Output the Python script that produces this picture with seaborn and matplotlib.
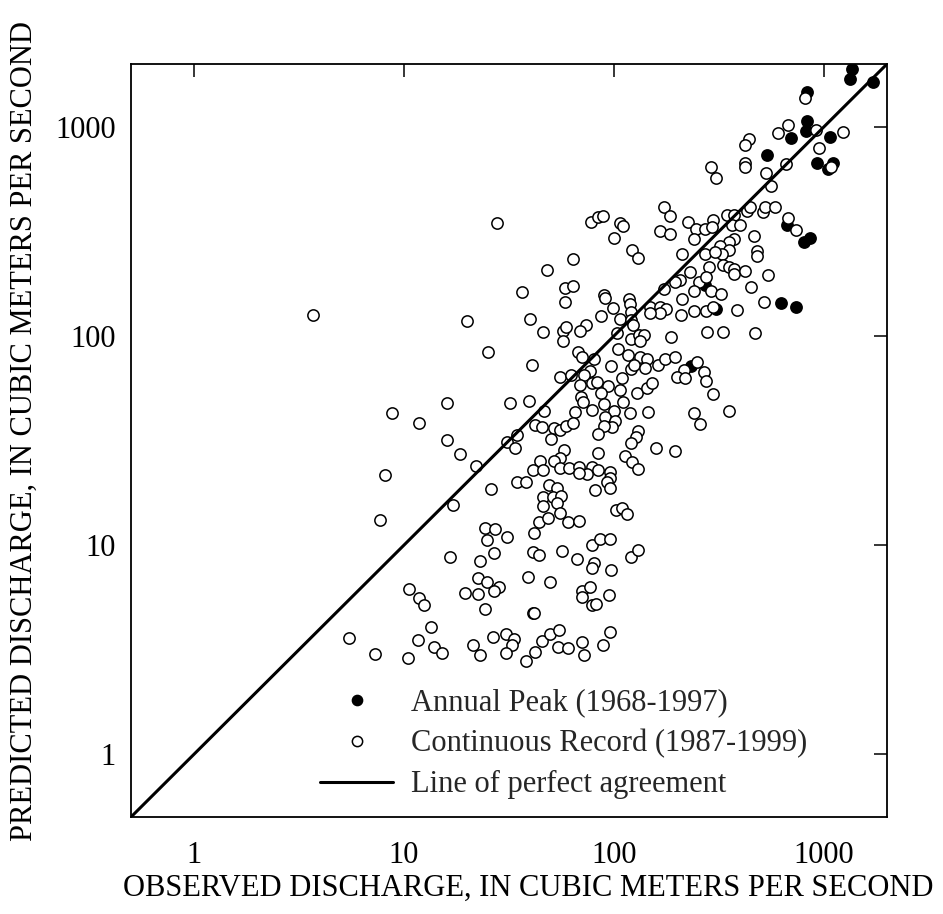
import matplotlib
matplotlib.use("Agg")
import matplotlib.pyplot as plt
from matplotlib.lines import Line2D
from matplotlib.ticker import NullLocator
import seaborn as sns

# ---------------- data ----------------
# Annual peak (1968-1997): observed vs predicted discharge, m3/s
peak_observed = [1362, 1337, 1708, 832, 832, 819, 695, 1071, 538, 924,
                 1106, 1042, 668, 807, 856, 628, 739, 308, 233, 273]
peak_predicted = [1900, 1690, 1641, 1462, 1062, 958, 884, 891, 733, 674,
                  672, 630, 341, 283, 294, 144, 137, 134, 72, 175]

# Continuous record (1987-1999): observed vs predicted discharge, m3/s
continuous_observed = [
    27.8, 63.7, 48.1, 36.6, 58.3, 63.7, 816, 672, 602, 922,
    1230, 438, 419, 948, 291, 307, 422, 419, 663, 528,
    562, 174, 184, 78.1, 84.4, 88.9, 107, 111, 100, 122,
    130, 165, 184, 225, 247, 271, 297, 294, 240, 346,
    372, 366, 400, 431, 443, 513, 522, 588, 672, 740,
    463, 372, 352, 321, 355, 328, 481, 481, 211, 271,
    304, 283, 331, 352, 372, 372, 419, 542, 231, 207,
    195, 173, 253, 276, 240, 291, 325, 450, 1080, 89.5,
    90.3, 118, 119, 210, 74.0, 68.8, 86.8, 98.7, 107, 120,
    120, 148, 165, 178, 165, 148, 209, 240, 276, 297,
    386, 516, 278, 331, 472, 188, 103, 123, 120, 131,
    139, 133, 105, 80.0, 117, 133, 144, 97.2, 121, 124,
    140, 163, 176, 196, 249, 215, 200, 217, 268, 274,
    295, 77.1, 71.9, 109, 78.7, 83.4, 93.5, 107, 129, 144,
    152, 86.3, 89.5, 111, 78.7, 99.8, 119, 145, 90.3, 101,
    98.0, 89.5, 84.0, 240, 258, 354, 130, 127, 120, 159,
    196, 84.0, 113, 122, 130, 78.7, 84.4, 74.5, 95.3, 96.1,
    92.2, 96.1, 81.6, 102, 109, 116, 58.3, 3.70, 20.0, 40.0,
    46.0, 57.4, 59.4, 57.4, 25.1, 40.8, 67.5, 70.6, 55.2, 62.1,
    69.2, 69.8, 71.4, 16.1, 32.1, 39.3, 8.74, 11.8, 46.3, 65.5,
    42.2, 45.5, 51.6, 55.2, 58.8, 64.0, 50.2, 16.1, 31.0, 34.6,
    33.9, 18.4, 22.1, 57.7, 55.2, 44.3, 51.6, 41.1, 46.0, 55.6,
    60.9, 68.5, 68.0, 8.08, 26.0, 34.6, 37.9, 48.9, 53.6, 45.8,
    51.3, 56.0, 53.6, 46.0, 17.1, 55.6, 7.71, 43.8, 48.5, 60.2,
    68.0, 24.2, 27.1, 24.9, 31.0, 41.5, 16.5, 22.9, 26.8, 41.2,
    43.8, 56.6, 66.9, 38.9, 49.8, 22.5, 24.9, 28.3, 26.8, 22.4,
    19.5, 10.6, 11.8, 12.5, 24.3, 41.1, 41.8, 70.6, 70.6, 13.4,
    5.46, 7.24, 10.4, 11.6, 13.9, 15.2, 21.3, 23.1, 26.5, 30.7,
    33.3, 32.8, 30.7, 38.2, 42.2, 45.5, 49.8, 54.6, 54.2, 60.2,
    70.6, 71.9, 78.7, 85.6, 96.1, 121, 130, 80.0, 78.7, 97.0,
    77.1, 95.1, 78.7, 82.5, 96.1, 88.9,
]
continuous_predicted = [
    347, 234, 206, 163, 170, 174, 1370, 1020, 940, 969,
    950, 875, 820, 797, 645, 569, 675, 645, 663, 602,
    523, 416, 376, 350, 370, 373, 347, 337, 295, 258,
    236, 319, 308, 352, 325, 325, 360, 333, 291, 379,
    379, 341, 341, 398, 415, 390, 415, 415, 366, 322,
    300, 291, 281, 268, 259, 247, 256, 242, 247, 247,
    252, 213, 219, 213, 208, 198, 204, 195, 202, 186,
    181, 168, 182, 191, 165, 165, 159, 171, 641, 157,
    152, 151, 143, 151, 113, 106, 125, 136, 120, 130,
    119, 138, 138, 134, 129, 129, 126, 131, 131, 138,
    133, 145, 104, 104, 103, 98.9, 103, 113, 96.3, 101,
    101, 94.1, 86.2, 77.8, 80.8, 79.2, 77.8, 72.2, 69.2, 72.9,
    70.2, 72.9, 77.8, 79.7, 75.1, 68.4, 63.7, 62.9, 66.9, 61.0,
    52.9, 67.7, 65.3, 62.9, 59.9, 60.4, 57.7, 55.3, 53.1, 56.5,
    59.9, 53.1, 47.1, 48.4, 44.1, 43.6, 42.6, 43.4, 41.0, 39.1,
    36.8, 37.2, 33.8, 43.0, 37.8, 43.8, 35.0, 33.0, 30.6, 29.0,
    28.1, 27.6, 26.6, 25.0, 23.0, 23.5, 22.8, 21.8, 22.4, 21.0,
    20.1, 18.7, 18.3, 14.7, 15.0, 14.0, 146, 126, 118, 121,
    104, 106, 110, 94.1, 83.9, 72.9, 83.9, 79.2, 63.7, 65.3,
    58.1, 51.1, 48.4, 47.6, 47.6, 48.9, 43.0, 38.4, 43.6, 43.4,
    37.7, 36.8, 36.1, 35.4, 37.2, 38.5, 32.3, 31.7, 31.2, 33.5,
    29.0, 27.2, 24.0, 28.4, 26.1, 25.3, 25.3, 22.8, 22.8, 23.3,
    23.3, 23.7, 22.0, 21.6, 18.5, 20.1, 20.1, 19.4, 18.7, 17.0,
    17.0, 17.2, 15.8, 15.4, 15.5, 14.2, 13.2, 12.9, 13.4, 12.9,
    13.0, 12.0, 11.9, 10.6, 10.9, 11.4, 8.80, 8.40, 9.12, 9.31,
    8.95, 9.36, 8.59, 7.07, 6.69, 6.99, 6.69, 6.33, 6.04, 5.86,
    5.88, 6.15, 5.56, 5.14, 4.95, 4.72, 4.72, 6.00, 5.65, 4.04,
    3.59, 3.02, 2.88, 3.50, 3.27, 3.04, 3.33, 2.99, 3.63, 3.75,
    3.55, 3.33, 3.04, 2.80, 3.08, 3.46, 3.75, 3.93, 3.27, 3.22,
    3.43, 2.99, 10.0, 10.7, 10.7, 8.80, 9.50, 8.17, 7.79, 7.60,
    6.33, 5.77, 5.14, 5.22, 3.82, 3.31,
]

# line of perfect agreement spans the axis range
agreement = [0.5, 2000]

tick_values = [1, 10, 100, 1000]
tick_labels = ["1", "10", "100", "1000"]

x_label = "OBSERVED DISCHARGE, IN CUBIC METERS PER SECOND"
y_label = "PREDICTED DISCHARGE, IN CUBIC METERS PER SECOND"
legend_labels = ["Annual Peak (1968-1997)",
                 "Continuous Record (1987-1999)",
                 "Line of perfect agreement"]

# ---------------- style ----------------
sns.set_theme(style="white")
plt.rcParams["font.family"] = ["Liberation Serif", "DejaVu Serif"]
plt.rcParams["axes.edgecolor"] = "black"

fig = plt.figure(figsize=(9.43, 9.14), dpi=100)
ax = fig.add_axes([131 / 943, 97 / 914, 756 / 943, 753 / 914])
ax.set_xscale("log")
ax.set_yscale("log")

sns.scatterplot(x=peak_observed, y=peak_predicted, ax=ax,
                marker="o", s=66, color="black", edgecolor="black",
                linewidth=1.1, zorder=2, legend=False)
sns.scatterplot(x=continuous_observed, y=continuous_predicted, ax=ax,
                marker="o", s=66, color="white", edgecolor="black",
                linewidth=1.1, zorder=3, legend=False)
sns.lineplot(x=agreement, y=agreement, ax=ax, color="black",
             linewidth=2.2, zorder=4, legend=False)

ax.set_xlim(0.5, 2000)
ax.set_ylim(0.5, 2000)
ax.set_xticks(tick_values)
ax.set_xticklabels(tick_labels)
ax.set_yticks(tick_values)
ax.set_yticklabels(tick_labels)
ax.xaxis.set_minor_locator(NullLocator())
ax.yaxis.set_minor_locator(NullLocator())
ax.tick_params(which="major", direction="in", length=9.5, width=1.1,
               top=True, right=True, labelsize=22, colors="black")
ax.tick_params(axis="x", pad=17)
ax.tick_params(axis="y", pad=11)
for sp in ax.spines.values():
    sp.set_color("black")
    sp.set_linewidth(1.3)

ax.set_xlabel(x_label, fontsize=22, color="black")
ax.set_ylabel(y_label, fontsize=22, color="black")
ax.xaxis.set_label_coords(0.525, -0.076)
ax.yaxis.set_label_coords(-0.122, 0.513)

handles = [
    Line2D([], [], linestyle="none", marker="o", markersize=7.4,
           markerfacecolor="black", markeredgecolor="black"),
    Line2D([], [], linestyle="none", marker="o", markersize=7.4,
           markerfacecolor="white", markeredgecolor="black",
           markeredgewidth=1.1),
    Line2D([], [], color="black", linewidth=2.2),
]
ax.legend(handles, legend_labels, loc="center left",
          bbox_to_anchor=(0.25, 0.097), frameon=False, fontsize=22,
          handlelength=2.4, handletextpad=0.59, labelspacing=0.38,
          borderpad=0, borderaxespad=0)

fig.savefig("out.png", dpi=100)
